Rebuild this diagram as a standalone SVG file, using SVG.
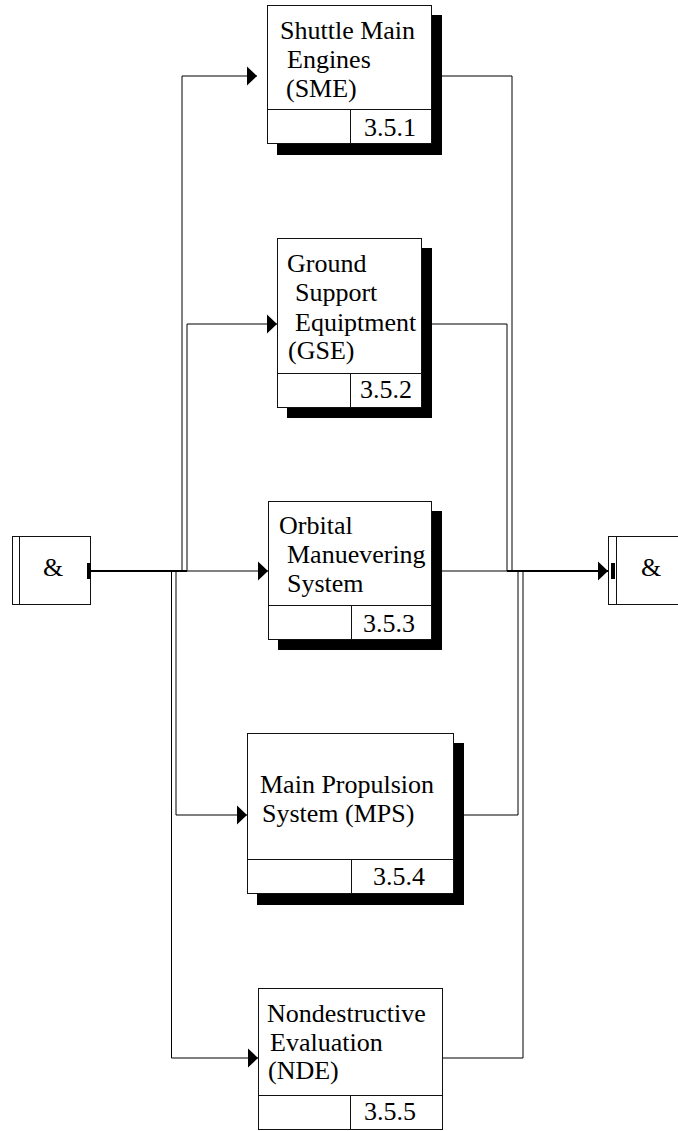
<svg xmlns="http://www.w3.org/2000/svg" width="678" height="1131" viewBox="0 0 678 1131">
<defs>
<marker id="arr" markerUnits="userSpaceOnUse" markerWidth="10" markerHeight="20" refX="10" refY="10" orient="auto" viewBox="0 0 10 20">
<path d="M0,0.5 L10,10 L0,19.5 z" fill="#000"/>
</marker>
<style>
.box{fill:#fff;stroke:#111;stroke-width:1}
.sh{fill:#000}
.ln{fill:none;stroke:#111;stroke-width:1}
.c{fill:none;stroke:#000;stroke-width:1}
.thick{fill:none;stroke:#000;stroke-width:2}
text{font-family:"Liberation Serif","Times New Roman",serif;font-size:26px;fill:#000}
</style>
</defs>
<rect width="678" height="1131" fill="#fff"/>

<g id="connectors">
<path class="c" d="M182,571 V76 H257" marker-end="url(#arr)"/>
<path class="c" d="M187,571 V324 H277" marker-end="url(#arr)"/>
<path class="c" d="M187,571 H268" marker-end="url(#arr)"/>
<path class="c" d="M176,571 V815 H247" marker-end="url(#arr)"/>
<path class="c" d="M171.5,571 V1058 H258" marker-end="url(#arr)"/>
<path class="thick" d="M91,571 H187"/>
<path class="c" d="M442,76 H512 V571"/>
<path class="c" d="M432,324 H507 V571"/>
<path class="c" d="M442,571 H507"/>
<path class="c" d="M464,815 H518 V571"/>
<path class="c" d="M442,1058 H523 V571"/>
<path class="thick" d="M507,571 H608" marker-end="url(#arr)"/>
</g>

<g id="and-left">
<rect class="box" x="12.5" y="536.5" width="78" height="68"/>
<line class="ln" x1="19.5" y1="536.5" x2="19.5" y2="604.5"/>
<rect x="87" y="563" width="4" height="16" fill="#000"/>
<text x="43" y="576">&amp;</text>
</g>

<g id="and-right">
<rect class="box" x="608.5" y="536.5" width="80" height="68"/>
<line class="ln" x1="616.5" y1="536.5" x2="616.5" y2="604.5"/>
<rect x="611" y="563" width="4" height="16" fill="#000"/>
<text x="641" y="576">&amp;</text>
</g>

<g id="sme">
<rect class="sh" x="277" y="15" width="165" height="140"/>
<rect class="box" x="267.5" y="5.5" width="164" height="138"/>
<line class="ln" x1="267.5" y1="109.5" x2="431.5" y2="109.5"/>
<line class="ln" x1="350.5" y1="109.5" x2="350.5" y2="143.5"/>
<text x="280" y="39">Shuttle Main</text>
<text x="287" y="68">Engines</text>
<text x="286" y="97">(SME)</text>
<text x="364" y="136">3.5.1</text>
</g>

<g id="gse">
<rect class="sh" x="287" y="248" width="145" height="170"/>
<rect class="box" x="277.5" y="238.5" width="144" height="169"/>
<line class="ln" x1="277.5" y1="373.5" x2="421.5" y2="373.5"/>
<line class="ln" x1="350.5" y1="373.5" x2="350.5" y2="407.5"/>
<text x="287" y="272">Ground</text>
<text x="295" y="301">Support</text>
<text x="295" y="331">Equiptment</text>
<text x="288" y="359">(GSE)</text>
<text x="360" y="398">3.5.2</text>
</g>

<g id="oms">
<rect class="sh" x="278" y="511" width="164" height="139"/>
<rect class="box" x="268.5" y="501.5" width="163" height="138"/>
<line class="ln" x1="268.5" y1="605.5" x2="431.5" y2="605.5"/>
<line class="ln" x1="351.5" y1="605.5" x2="351.5" y2="639.5"/>
<text x="279" y="534">Orbital</text>
<text x="287" y="563">Manuevering</text>
<text x="287" y="592">System</text>
<text x="363" y="632">3.5.3</text>
</g>

<g id="mps">
<rect class="sh" x="257" y="743" width="207" height="162"/>
<rect class="box" x="247.5" y="733.5" width="206" height="160"/>
<line class="ln" x1="247.5" y1="859.5" x2="453.5" y2="859.5"/>
<line class="ln" x1="351.5" y1="859.5" x2="351.5" y2="893.5"/>
<text x="260" y="793">Main Propulsion</text>
<text x="262" y="822">System (MPS)</text>
<text x="373" y="885">3.5.4</text>
</g>

<g id="nde">
<rect class="box" x="258.5" y="988.5" width="184" height="141"/>
<line class="ln" x1="258.5" y1="1095.5" x2="442.5" y2="1095.5"/>
<line class="ln" x1="350.5" y1="1095.5" x2="350.5" y2="1129.5"/>
<text x="267" y="1022">Nondestructive</text>
<text x="270" y="1051">Evaluation</text>
<text x="268" y="1079">(NDE)</text>
<text x="364" y="1120">3.5.5</text>
</g>
</svg>
